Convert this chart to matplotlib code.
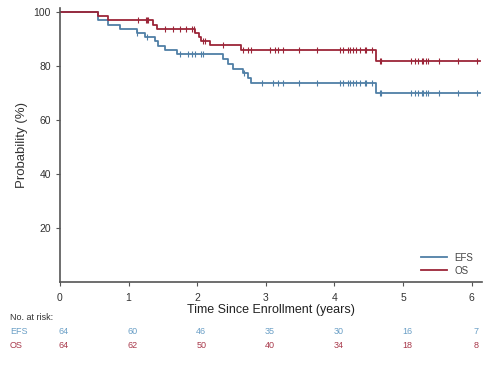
import numpy as np
import matplotlib
matplotlib.use("Agg")
import matplotlib.pyplot as plt

plt.rcParams['font.family'] = ['Liberation Sans', 'DejaVu Sans']

# Kaplan-Meier steps (time in years, probability in %)
efs_t = [0, 0.56, 0.70, 0.87, 1.12, 1.24, 1.38, 1.43, 1.53, 1.70, 2.38, 2.45, 2.52, 2.67, 2.74, 2.79, 4.61, 6.12]
efs_s = [100, 96.9, 95.3, 93.8, 92.2, 90.6, 89.1, 87.5, 85.9, 84.4, 82.5, 80.9, 79.0, 77.4, 75.6, 73.8, 69.9, 69.9]
os_t = [0, 0.56, 0.70, 1.36, 1.41, 1.97, 2.02, 2.06, 2.18, 2.64, 4.61, 6.12]
os_s = [100, 98.4, 96.9, 95.3, 93.7, 92.2, 90.6, 89.3, 87.9, 85.9, 82.0, 82.0]

# censoring marks
efs_cens = [1.13, 1.27, 1.75, 1.87, 1.92, 1.97, 2.06, 2.09, 2.68, 2.95, 3.10, 3.18, 3.25,
            3.49, 3.74, 4.08, 4.12, 4.20, 4.22, 4.27, 4.32, 4.37, 4.44, 4.46, 4.54,
            4.66, 4.68, 5.12, 5.17, 5.22, 5.27, 5.29, 5.34, 5.36, 5.53, 5.80, 6.07]
os_cens = [1.14, 1.25, 1.27, 1.29, 1.53, 1.65, 1.75, 1.84, 1.92, 1.95, 2.08, 2.12, 2.38,
           2.67, 2.74, 2.78, 3.06, 3.14, 3.18, 3.25, 3.49, 3.74, 4.08, 4.12, 4.20, 4.22,
           4.27, 4.32, 4.37, 4.44, 4.46, 4.54, 4.66, 4.68, 5.12, 5.17, 5.22, 5.27, 5.29,
           5.34, 5.36, 5.53, 5.80, 6.07]

risk_times = [0, 1, 2, 3, 4, 5, 6]
efs_risk = [64, 60, 46, 35, 30, 16, 7]
os_risk = [64, 62, 50, 40, 34, 18, 8]

efs_color = "#4f7fa6"
os_color = "#9c2538"
efs_text = "#6a9fc6"
os_text = "#a8384a"


def step_value(times, surv, x):
    i = np.searchsorted(times, x, side="right") - 1
    return np.asarray(surv)[i]


fig = plt.figure(figsize=(4.99, 3.66), dpi=100)
ax = fig.add_axes([0.120, 0.230, 0.846, 0.748])

ax.step(efs_t, efs_s, where="post", color=efs_color, lw=1.3, label="EFS")
ax.step(os_t, os_s, where="post", color=os_color, lw=1.3, label="OS")
ax.plot(efs_cens, step_value(efs_t, efs_s, efs_cens), ls="none", marker="|",
        ms=4, mew=0.8, color=efs_color)
ax.plot(os_cens, step_value(os_t, os_s, os_cens), ls="none", marker="|",
        ms=4, mew=0.8, color=os_color)

ax.set_xlim(0, 6.15)
ax.set_ylim(0, 101.5)
ax.set_xticks(risk_times)
ax.set_yticks([20, 40, 60, 80, 100])
for s in ["top", "right"]:
    ax.spines[s].set_visible(False)
for s in ["left", "bottom"]:
    ax.spines[s].set_color("#555555")
    ax.spines[s].set_linewidth(1.2)
ax.tick_params(colors="#555555", labelcolor="#333333", labelsize=7.5, length=3, width=0.8)
ax.tick_params(axis="x", pad=5)

ax.set_xlabel("Time Since Enrollment (years)", fontsize=9, color="#222222", labelpad=1)
ax.set_ylabel("Probability (%)", fontsize=9.5, color="#333333", labelpad=4)

ax.legend(loc="lower right", bbox_to_anchor=(1.0, -0.01), frameon=False, fontsize=7,
          handlelength=2.6, labelspacing=0.3, labelcolor="#444444")

# numbers at risk
fig.text(10 / 499, 1 - 318 / 366, "No. at risk:", fontsize=6.5, color="#333333", va="center")
fig.text(10 / 499, 1 - 332 / 366, "EFS", fontsize=6.5, color=efs_text, va="center")
fig.text(10 / 499, 1 - 346 / 366, "OS", fontsize=6.5, color=os_text, va="center")
for t, e, o in zip(risk_times, efs_risk, os_risk):
    xf = ax.transData.transform((t, 0))
    xfig = fig.transFigure.inverted().transform(xf)[0]
    fig.text(xfig + 0.008, 1 - 332 / 366, str(e), fontsize=6.5, color=efs_text, ha="center", va="center")
    fig.text(xfig + 0.008, 1 - 346 / 366, str(o), fontsize=6.5, color=os_text, ha="center", va="center")

fig.savefig("out.png", dpi=100)
